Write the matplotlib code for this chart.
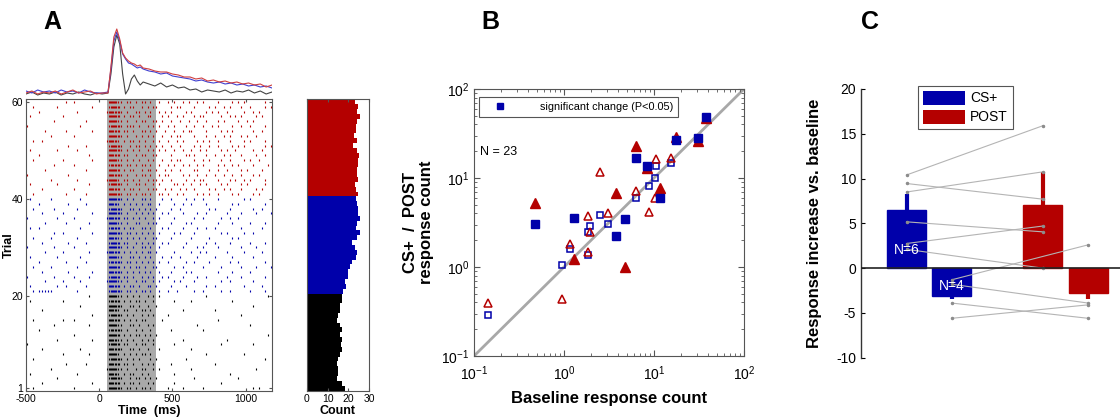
import numpy as np
import matplotlib
matplotlib.use("Agg")
import matplotlib.pyplot as plt
from matplotlib.lines import Line2D
from matplotlib.patches import Patch

plt.rcParams["font.family"] = ["Liberation Sans", "DejaVu Sans"]
plt.rcParams["axes.unicode_minus"] = False
plt.rcParams["mathtext.default"] = "regular"

BLUE = "#0000aa"
RED = "#b40000"
FRAME = "#555555"

# ============================================================
# Panel A data
# ============================================================
# PSTH (arbitrary rate units), one line per block
PSTH_T = [-500, -460, -420, -380, -340, -300, -260, -220, -180, -140, -100, -60, -20, 20,
          60, 80, 100, 120, 140, 160, 180, 200, 220, 240, 260, 280, 300,
          340, 380, 420, 460, 500, 540, 580, 620, 660, 700, 740, 780, 820, 860, 900,
          940, 980, 1020, 1060, 1100, 1140, 1180]
PSTH_BASE = [5, 7, 4, 6, 5, 7, 4, 6, 5, 7, 5, 4, 6, 5,
             6, 25, 52, 64, 55, 25, 5, 10, 20, 24, 18, 14, 17,
             15, 13, 16, 12, 14, 11, 12, 9, 10, 7, 9, 8, 7, 9, 6, 8, 7, 9, 6, 8, 5, 7]
PSTH_CS = [8, 6, 9, 7, 8, 6, 9, 7, 8, 6, 9, 7, 6, 6,
           7, 30, 58, 67, 58, 45, 40, 36, 35, 33, 31, 32, 30,
           28, 27, 25, 26, 23, 22, 21, 20, 18, 19, 17, 16, 17, 15, 16, 14, 15, 13, 14, 12, 13, 11]
PSTH_POST = [6, 8, 5, 7, 6, 8, 5, 7, 9, 6, 7, 8, 5, 6,
             6, 32, 62, 70, 60, 46, 41, 38, 36, 35, 33, 34, 31,
             30, 28, 27, 27, 25, 24, 22, 22, 20, 21, 18, 19, 17, 18, 16, 17, 15, 16, 14, 15, 12, 14]

# raster: one string per trial (trial 1 first), 20 ms bins from -500 ms,
# digit = number of spikes in the bin, groups of 4 bins for readability
BIN_START = -500
BIN_W = 20
RASTER = [
    "..1. .... .... .... 1... .... .... 2332 1.11 .1.1 1.1. .... 1... .1.. .... 1... .... .... .... .1.1 ....",
    ".... .1.. .... .... .... ..1. .... 2322 .1.1 1.1. .1.1 .... ..1. .... .... .... ..1. .... .... .... ....",
    ".... .... ..1. .... .... .... .... 1332 1..1 .11. 1.1. 1... .... .... .1.. .... .... .... 1... .... ....",
    ".1.. .... .... .... .1.. .... .... 2321 .1.1 1..1 .1.. .... ..1. .... .... .... .... .1.. .... .... ....",
    ".... .... 1... .... .... .... ...1 2331 1.1. .1.1 1..1 .1.. .... .... 1... .... .... .... .... ..1. ....",
    ".... .... .... .1.. .... 1... .... 2322 .11. 1..1 .1.1 .... .1.. .... .... .... 1... .... .... .... ....",
    "..1. .... .... .... .... .... .... 1332 1.1. 1.1. ..1. 1... .... ..1. .... .... .... .... .... .... .1..",
    ".... .... .... 1... .... .1.. .... 2331 .1.1 .1.1 1.1. .... .... .... .... .1.. .... .... ..1. .... ....",
    ".... .1.. .... .... ..1. .... .... 2322 1..1 1.1. .1.. .1.. .... .... 1... .... .... .... .... .... ....",
    "1... .... .... .... .... .... .... 1332 .11. .1.1 1..1 .... ..1. .... .... .... ..1. .... .... .1.. ....",
    ".... .... ..1. .... .... ..1. .... 2321 1.1. 1..1 .1.1 .... .... .1.. .... .... .... 1... .... .... ....",
    ".... .... .... .... 1... .... .... 2332 .1.1 .11. 1.1. 1... .... .... .... .... .... .... .... .... ..1.",
    ".... 1... .... .... .... .... .... 1322 1.1. .1.1 ..1. .... .1.. .... .... 1... .... .... .... .... ....",
    ".... .... .1.. .... .... .1.. .... 2331 1..1 1.1. .1.1 .... .... .... ..1. .... .... .... .... 1... ....",
    "..1. .... .... 1... 1... .... .... 2322 .1.1 .1.1 1... ..1. .... .... .... .... .1.. .... .... .... ....",
    ".... .... .... .... .... ..1. .... 1332 1.1. 1..1 .1.1 .... 1... .... .... .... .... .... .1.. .... ....",
    ".... .1.. .... .... .... .... .... 2321 .11. .1.1 1.1. .... .... .1.. .... .... 1... .... .... .... ....",
    ".... .... .... .... ..1. .... .... 2332 1..1 1.1. .1.. 1... .... .... .... .... .... .... .... .1.. ....",
    ".1.. .... .... 1... .... .... .... 1322 .1.1 .11. 1..1 .... ..1. .... 1... .... .... ..1. .... .... ....",
    ".... .... .... .... .... .1.. .... 2331 1.1. 1.1. .1.1 .1.. .... .... .... .1.. .... .... .... .... ..1.",
    "..1. 1111 1... .... .1.. .... .... 1332 1.11 .1.1 1.1. .1.. 1..1 .... .1.. 1... ..1. .1.. .... 1... .1..",
    ".1.. .... ..1. .1.. .... 1... .... 2322 .1.1 1.1. .11. 1... .1.. ..1. .... .1.. 1... .... ..1. .... 1...",
    ".... ..1. .... 1... ..1. .... ...1 2331 1.1. .1.1 1..1 .1.. ..1. 1... .1.. .... ..1. .1.. .... .1.. ....",
    "1... .... .1.. .... 1... .1.. .... 1332 .11. 1..1 .1.1 ..1. 1... .1.. ..1. .1.. .... 1... .1.. .... .1..",
    ".... .1.. .... ..1. .... ..1. .... 2322 1.1. 1.1. 1.1. .1.. .1.. ..1. 1... .... .1.. ..1. .... 1... ....",
    "..1. .... 1... .... .1.. .... .... 2332 .1.1 .11. 1..1 1... ..1. .1.. .... 1... ..1. .... .1.. ..1. ...1",
    ".... 1... .... .1.. .... 1... .... 1322 1.11 .1.1 .1.1 .1.. 1... ..1. .1.. ..1. .... .1.. 1... .... .1..",
    ".1.. .... ..1. .... ..1. .... .... 2331 1..1 1.1. 1.1. ..1. .1.. 1... ..1. .... 1... ..1. .... .1.. ....",
    ".... ..1. .... 1... .... .1.. ...1 2322 .1.1 .1.1 .11. 1... ..1. .... 1..1 .1.. .... 1... ..1. .... 1...",
    "1... .... .1.. .... 1... .... .... 2332 1.1. 1..1 1.1. .1.. .... .1.. ..1. 1... .1.. .... .1.. ..1. ....",
    ".... .1.. .... ..1. .... 1... .... 1332 .11. .1.1 .1.1 ..1. 1... ..1. .... .1.. 1... .1.. .... 1... .1..",
    "..1. .... 1... .... .1.. .... .... 2321 1.1. 1.1. 1..1 1... .1.. .... 1... ..1. .... ..1. 1... .... ....",
    ".... .... .1.. 1... .... ..1. .... 2332 1.11 .1.1 .1.1 .1.. ..1. 1... .1.. .... ..1. 1... ..1. .1.. ....",
    ".1.. 1... .... .... ..1. .... .... 1322 .1.1 1..1 1.1. ..1. 1... .1.. ..1. .1.. 1... .... .1.. .... 1...",
    ".... ..1. .... .1.. .... .1.. .... 2331 1.1. .11. .1.1 1... .1.. ..1. 1... .... .1.. ..1. .... 1... .1..",
    "1... .... ..1. .... 1... .... ...1 2322 .11. 1.1. 1..1 .1.. ..1. .... .1.. 1... ..1. .1.. 1... .... ....",
    ".... .1.. .... 1... .... ..1. .... 2332 1.1. .1.1 .1.1 ..1. 1... .1.. ..1. .1.. .... 1... .1.. ..1. ...1",
    "..1. .... .1.. .... .1.. .... .... 1332 1..1 1.1. 1.1. 1... .1.. 1... .... ..1. 1... .1.. .... .1.. 1...",
    ".... 1... .... ..1. .... 1... .... 2321 .1.1 .1.1 .11. .1.. ..1. .1.. 1... .1.. .... ..1. 1... .... .1..",
    ".1.. .... 1... .... ..1. .... .... 2332 1.1. 1..1 1.1. ..1. .1.. ..1. .1.. 1... .1.. .... ..1. 1... ....",
    "..1. .... .... .1.. .... 1... .... 2332 1.11 .1.1 1.1. .11. 1..1 .1.. ..1. 1.1. .1.. ..1. 1... .1.1 ....",
    ".... .1.. .... .... 1... .... .... 2322 .1.1 1.1. .1.1 1..1 .1.. 1.1. .1.. ..1. 1..1 .1.. .1.. ..1. 1...",
    ".1.. .... ..1. .... .... .1.. .... 1332 1.1. .11. 1..1 .1.. ..11 .1.. 1..1 .1.. ..1. 1... .1.1 .... .1..",
    ".... .... 1... .... .1.. .... ...1 2331 .11. 1.1. .1.1 1.1. .1.. ..1. .1.1 1... .1.. .1.1 ..1. 1... .1..",
    "1... .... .... ..1. .... .... .... 2322 1.1. .1.1 1.1. .1.1 1... .1.1 ..1. .1.. 1..1 ..1. .1.. .1.1 ....",
    ".... ..1. .... .... .... 1... .... 2332 .1.1 1..1 .11. 1..1 .1.. 1... .11. ..1. .1.. 1... .1.1 .... 1...",
    ".... .... .1.. .... 1... .... .... 1322 1.11 .1.1 1.1. .1.. 1.1. .1.1 ..1. 1... .1.1 ..1. 1... .1.. ..1.",
    "..1. .... .... 1... .... ..1. .... 2331 1.1. 1.1. .1.1 ..1. .1.1 1... .1.. 1.1. ..1. .1.. ..1. 1..1 ....",
    ".... 1... .... .... .... .1.. .... 2322 .11. .1.1 1..1 1... .1.. ..11 .1.. .1.. 1..1 .1.. .1.. ..1. .1..",
    ".1.. .... ..1. .... .1.. .... .... 2332 1.1. 1.1. .1.1 .1.1 ..1. .1.. 1..1 .1.. ..1. 1..1 .... .1.. 1...",
    ".... .... .... ..1. .... 1... .... 1332 1..1 .11. 1.1. 1.1. .1.. 1... .1.1 ..1. .1.. ..1. 1.1. .... .1.1",
    "..1. .1.. .... .... .... .... ...1 2321 .1.1 1.1. 1..1 .1.. 1..1 .1.. ..1. 1.1. .1.. .1.. ..1. 1... .1..",
    ".... .... 1... .... 1... .... .... 2332 1.1. .1.1 .1.1 ..1. .1.1 1... .1.. .1.. 1..1 .1.. .1.1 ..1. ....",
    ".... ..1. .... .1.. .... ..1. .... 2322 .11. 1..1 1.1. 1..1 ..1. .1.1 1... .1.. ..1. 1.1. .... .1.. 1...",
    "1... .... .... .... ..1. .... .... 1332 1.11 1.1. .1.1 .1.. 1.1. ..1. .1.. 1..1 .1.. ..1. .1.. 1... .1..",
    ".... .... .1.. .... .... 1... .... 2331 1.1. .1.1 1..1 1.1. .1.. 1..1 ..1. .1.. .1.1 .... 1..1 .1.. ....",
    ".1.. .... .... 1... .... .... .... 2332 .1.1 1.1. .11. ..1. 1..1 .1.. .1.1 1... ..1. .1.1 .1.. ..1. 1...",
    ".... 1... .... .... .1.. .... ...1 2322 1.1. .11. 1.1. .1.1 .1.. ..1. 1... .1.1 .1.. 1... ..1. .1.1 ....",
    "..1. .... ..1. .... .... ..1. .... 1332 .1.1 1..1 .1.1 1... .1.1 1... .1.. ..1. 1..1 .1.. .1.. 1... .1.1",
    ".... .... .... .1.. 1... .... .... 2331 1.11 .1.1 1.1. .1.. 1.1. .1.1 ..1. 1... .1.. ..1. 1.1. .... .1..",
]

# spike count per trial (trial 1 first)
COUNT_BASE = [18.4, 16.8, 14.4, 14.8, 15.2, 14.4, 15.2, 16.0, 16.8, 16.5,
              16.8, 16.0, 16.8, 16.0, 14.4, 15.2, 16.0, 16.0, 17.1, 16.8]
COUNT_CS = [17.6, 18.7, 18.4, 19.7, 20.0, 20.8, 21.6, 23.5, 24.0, 23.2,
            21.6, 24.0, 25.6, 23.7, 24.0, 25.6, 24.5, 24.8, 24.0, 23.7]
COUNT_POST = [24.8, 23.7, 23.2, 24.8, 24.0, 24.0, 24.8, 24.8, 25.2, 24.2,
              22.4, 24.0, 22.9, 23.7, 23.7, 24.0, 25.6, 24.0, 24.8, 23.2]

# ============================================================
# Panel B data (23 neurons)
# ============================================================
BASELINE = [0.48, 1.30, 3.81, 4.72, 6.25, 8.3, 11.6, 17.7, 30.8, 38.1,
            0.143, 0.957, 1.17, 1.85, 1.85, 1.93, 2.49, 3.11, 6.25, 8.8, 10.3, 10.6, 15.6]
CS_PLUS = [3.04, 3.56, 2.25, 3.43, 16.9, 13.8, 6.0, 26.7, 27.9, 48.9,
           0.286, 1.06, 1.58, 1.37, 2.45, 2.89, 3.84, 3.01, 6.0, 8.2, 10.1, 13.8, 14.6]
POST = [5.28, 1.23, 6.73, 0.99, 22.9, 12.9, 7.66, 29.1, 26.2, 46.8,
        0.39, 0.44, 1.80, 1.49, 3.74, 2.47, 11.8, 4.01, 7.2, 4.11, 5.9, 16.5, 16.6]
SIGNIFICANT = [1] * 10 + [0] * 13

# ============================================================
# Panel C data
# ============================================================
BAR_CS = [6.5, -3.1]       # increasing (N=6), decreasing (N=4)
BAR_POST = [7.1, -2.75]
ERR_CS = [1.8, 0.3]
ERR_POST = [3.65, 0.65]
INC_CS = [10.4, 9.45, 8.5, 5.17, 2.75, 2.1]
INC_POST = [15.9, 7.7, 10.75, 4.05, 4.7, 0.0]
DEC_CS = [-1.3, -1.8, -3.9, -5.6]
DEC_POST = [2.6, -3.9, -5.6, -4.1]
N_LABELS = ["N=6", "N=4"]

W, H = 1120, 420
fig = plt.figure(figsize=(W / 100, H / 100), dpi=100)


def frac(x0, y0, x1, y1):
    return [x0 / W, 1 - y1 / H, (x1 - x0) / W, (y1 - y0) / H]


def style_frame(ax):
    for s in ax.spines.values():
        s.set_color(FRAME)
        s.set_linewidth(0.8)


def block_color(trial):
    if trial <= 20:
        return "black"
    if trial <= 40:
        return BLUE
    return RED


# ---- A: raster
ax_r = fig.add_axes(frac(26, 99, 272, 391))
ax_r.axvspan(50, 390, color="#a9a9a9", lw=0, zorder=0)
for k, row in enumerate(RASTER):
    trial = k + 1
    bins = row.replace(" ", "")
    times = []
    for i, c in enumerate(bins):
        n = 0 if c == "." else int(c)
        for j in range(n):
            times.append(BIN_START + BIN_W * i + BIN_W * (j + 0.5) / n)
    ax_r.plot(times, [trial] * len(times), "|", color=block_color(trial),
              ms=1.6, mew=0.8, zorder=2)
ax_r.set_xlim(-500, 1180)
ax_r.set_ylim(0.4, 60.6)
ax_r.set_xticks([-500, 0, 500, 1000])
ax_r.set_yticks([1, 20, 40, 60])
ax_r.tick_params(direction="in", top=True, right=True, labelsize=7.5,
                 length=2.5, color=FRAME, pad=2)
ax_r.set_xlabel("Time  (ms)", fontsize=9, fontweight="bold", labelpad=1)
ax_r.set_ylabel("Trial", fontsize=9, fontweight="bold")
ax_r.yaxis.set_label_coords(-0.045, 0.5)
style_frame(ax_r)

# ---- A: PSTH
ax_p = fig.add_axes(frac(26, 28, 272, 99))
ax_p.plot(PSTH_T, PSTH_BASE, color="#444444", lw=0.8)
ax_p.plot(PSTH_T, PSTH_CS, color="#4040d0", lw=0.8)
ax_p.plot(PSTH_T, PSTH_POST, color="#d04040", lw=0.8)
ax_p.set_xlim(-500, 1180)
ax_p.set_ylim(0, 71)
ax_p.axis("off")

# ---- A: count histogram
ax_h = fig.add_axes(frac(307, 99, 369, 391))
trials = np.arange(1, 61)
counts = COUNT_BASE + COUNT_CS + COUNT_POST
ax_h.barh(trials, counts, height=1.0, color=[block_color(t) for t in trials], lw=0)
ax_h.set_xlim(0, 30)
ax_h.set_ylim(0.4, 60.6)
ax_h.set_xticks([0, 10, 20, 30])
ax_h.set_yticks([])
ax_h.tick_params(direction="in", top=True, labelsize=7.5, length=2.5, color=FRAME, pad=2)
ax_h.set_xlabel("Count", fontsize=9, fontweight="bold", labelpad=1)
style_frame(ax_h)

# ---- B: scatter
ax_b = fig.add_axes(frac(474, 89, 744, 356))
ax_b.set_xscale("log")
ax_b.set_yscale("log")
base = np.array(BASELINE)
csp = np.array(CS_PLUS)
post = np.array(POST)
sig = np.array(SIGNIFICANT, dtype=bool)
ax_b.plot([0.1, 100], [0.1, 100], color="#a8a8a8", lw=2, zorder=1)
ax_b.plot(base[~sig], csp[~sig], "s", mfc="none", mec=BLUE, ms=5, mew=1.1, zorder=2)
ax_b.plot(base[~sig], post[~sig], "^", mfc="none", mec=RED, ms=6, mew=1.1, zorder=3)
ax_b.plot(base[sig], post[sig], "^", color=RED, ms=6.5, zorder=4)
ax_b.plot(base[sig], csp[sig], "s", color=BLUE, ms=5.5, zorder=5)
ax_b.set_xlim(0.1, 100)
ax_b.set_ylim(0.1, 100)
ax_b.tick_params(which="both", direction="in", top=True, right=True, color=FRAME)
ax_b.tick_params(which="major", labelsize=10, length=4)
ax_b.tick_params(axis="x", which="major", pad=6)
ax_b.tick_params(which="minor", length=2)
ax_b.set_xlabel("Baseline response count", fontsize=12, fontweight="bold", labelpad=6)
ax_b.set_ylabel("CS+  /  POST\nresponse count", fontsize=12, fontweight="bold",
                linespacing=1.1, labelpad=5)
ax_b.text(0.022, 0.765, "N = 23", transform=ax_b.transAxes, fontsize=9, va="center")
sig_handle = Line2D([], [], marker="s", color=BLUE, ls="none", ms=5)
leg = ax_b.legend([sig_handle], ["significant change (P<0.05)"], loc="upper left",
                  bbox_to_anchor=(0.018, 0.97), borderaxespad=0, fontsize=7.8,
                  handlelength=3, handletextpad=2.2, borderpad=0.45,
                  fancybox=False, framealpha=1)
leg.get_frame().set_edgecolor(FRAME)
leg.get_frame().set_linewidth(0.8)
style_frame(ax_b)

# ---- C: bar chart
ax_c = fig.add_axes(frac(861, 89, 1120, 357.7))
groups = np.array([1.0, 2.0])
off = 0.166
bw = 0.285
x_cs = groups[0] + np.array([-off, off])
x_post = groups[1] + np.array([-off, off])
ax_c.bar(x_cs, BAR_CS, width=bw, color=BLUE, edgecolor=BLUE, zorder=2)
ax_c.bar(x_post, BAR_POST, width=bw, color=RED, edgecolor=RED, zorder=2)
for xs, vals, errs, col in [(x_cs, BAR_CS, ERR_CS, BLUE), (x_post, BAR_POST, ERR_POST, RED)]:
    for x, v, e in zip(xs, vals, errs):
        lo, hi = (0, e) if v >= 0 else (e, 0)
        ax_c.errorbar(x, v, yerr=[[lo], [hi]], fmt="none", ecolor=col,
                      elinewidth=3, capsize=0, zorder=2)
for a, b in zip(INC_CS, INC_POST):
    ax_c.plot([x_cs[0], x_post[0]], [a, b], color="#b4b4b4", lw=0.8, marker=".",
              ms=3, mfc="#8c8c8c", mec="#8c8c8c", zorder=3)
for a, b in zip(DEC_CS, DEC_POST):
    ax_c.plot([x_cs[1], x_post[1]], [a, b], color="#b4b4b4", lw=0.8, marker=".",
              ms=3, mfc="#8c8c8c", mec="#8c8c8c", zorder=3)
ax_c.axhline(0, color="#222222", lw=1.2, zorder=4)
ax_c.text(x_cs[0], 2.0, N_LABELS[0], color="white", ha="center", va="center",
          fontsize=10, zorder=5)
ax_c.text(x_cs[1], -2.0, N_LABELS[1], color="white", ha="center", va="center",
          fontsize=10, zorder=5)
ax_c.set_xlim(0.5, 2.4)
ax_c.set_ylim(-10, 20)
ax_c.set_yticks(np.arange(-10, 21, 5))
ax_c.set_xticks([])
for s in ["top", "right", "bottom"]:
    ax_c.spines[s].set_visible(False)
ax_c.spines["left"].set_color("#333333")
ax_c.spines["left"].set_linewidth(1.0)
ax_c.tick_params(direction="in", labelsize=10, length=3)
ax_c.set_ylabel("Response increase vs. baseline", fontsize=12, fontweight="bold", labelpad=10)
leg_c = ax_c.legend([Patch(facecolor=BLUE), Patch(facecolor=RED)], ["CS+", "POST"],
                    loc="upper left", bbox_to_anchor=(0.22, 1.012), borderaxespad=0,
                    fontsize=10, handlelength=3.0, handleheight=1.2,
                    handletextpad=0.4, labelspacing=0.3, borderpad=0.35,
                    fancybox=False, framealpha=1)
leg_c.get_frame().set_edgecolor(FRAME)
leg_c.get_frame().set_linewidth(0.8)

# ---- panel letters
for x, letter in [(52, "A"), (490, "B"), (870, "C")]:
    fig.text(x / W, 1 - 22 / H, letter, fontsize=18, fontweight="bold",
             ha="center", va="center")

fig.savefig("out.png", dpi=100)
